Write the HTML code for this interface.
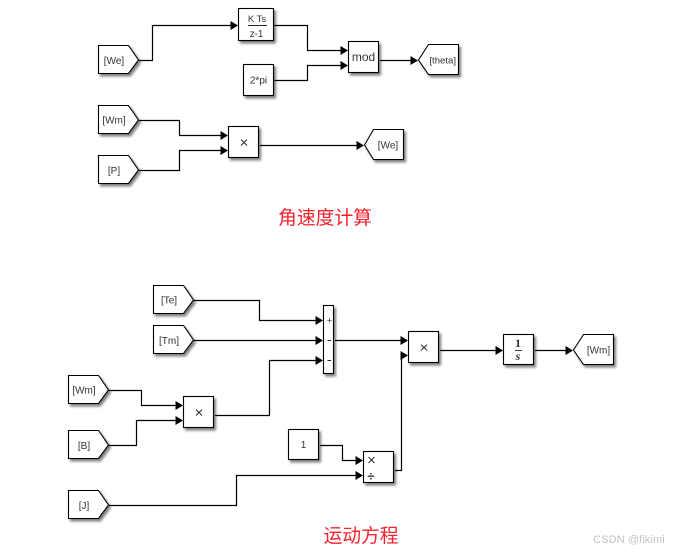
<!DOCTYPE html>
<html><head><meta charset="utf-8"><style>
html,body{margin:0;padding:0;background:#fff;width:676px;height:553px;overflow:hidden}
svg{display:block;filter:blur(.3px)}
text{font-family:"Liberation Sans",sans-serif;font-size:10px;fill:#333;text-anchor:middle}
.c{font-family:"Liberation Sans","Noto Sans CJK SC",sans-serif;font-size:18.8px;fill:#f5222d}
.w{fill:none;stroke:#000;stroke-width:1.2}
.b{fill:#fff;stroke:#000;stroke-width:1.1;filter:url(#s)}
.a{fill:#000;stroke:none}
</style></head><body>
<svg width="676" height="553" viewBox="0 0 676 553" xmlns="http://www.w3.org/2000/svg">
<defs><filter id="s" x="-30%" y="-30%" width="170%" height="170%"><feDropShadow dx="2" dy="2.5" stdDeviation="1.3" flood-color="#000" flood-opacity=".5"/></filter></defs>

<!-- wires -->
<g class="w">
<path d="M139 60.500H152.500V25.500H232"/>
<path d="M274.500 25.500H307.500V50.500H342"/>
<path d="M274.500 80.500H307.500V65.500H342"/>
<path d="M380 60.500H412"/>
<path d="M139 120.500H179.500V135.500H222"/>
<path d="M139 170.500H179.500V150.500H222"/>
<path d="M260 145.500H358"/>
<path d="M194 300.500H259.500V320.500H317"/>
<path d="M194 340.500H317"/>
<path d="M215 415.500H269.500V360.500H317"/>
<path d="M335 340.500H402"/>
<path d="M109 390.500H141.500V405.500H177"/>
<path d="M109 445.500H136.500V420.500H177"/>
<path d="M109 505.500H236.500V475.500H357"/>
<path d="M320 445.500H342.500V460.500H357"/>
<path d="M395 470.500H401.500V355.500H402"/>
<path d="M440 350.500H497"/>
<path d="M535 350.500H567"/>
</g>

<!-- arrowheads -->
<g class="a">
<path d="M230.500 21L238 25.500L230.500 30Z"/>
<path d="M340.500 46L348 50.500L340.500 55Z"/>
<path d="M340.500 61L348 65.500L340.500 70Z"/>
<path d="M410.500 56L418 60.500L410.500 65Z"/>
<path d="M220.500 131L228 135.500L220.500 140Z"/>
<path d="M220.500 146L228 150.500L220.500 155Z"/>
<path d="M356.500 141L364 145.500L356.500 150Z"/>
<path d="M315.500 316L323 320.500L315.500 325Z"/>
<path d="M315.500 336L323 340.500L315.500 345Z"/>
<path d="M315.500 356L323 360.500L315.500 365Z"/>
<path d="M175.500 401L183 405.500L175.500 410Z"/>
<path d="M175.500 416L183 420.500L175.500 425Z"/>
<path d="M400.500 336L408 340.500L400.500 345Z"/>
<path d="M400.500 351L408 355.500L400.500 360Z"/>
<path d="M355.500 456L363 460.500L355.500 465Z"/>
<path d="M355.500 471L363 475.500L355.500 480Z"/>
<path d="M495.500 346L503 350.500L495.500 355Z"/>
<path d="M565.500 346L573 350.500L565.500 355Z"/>
</g>

<!-- blocks -->
<g>
<rect class="b" x="238.500" y="8.500" width="35" height="32"/>
<rect class="b" x="243.500" y="64.500" width="30" height="31"/>
<rect class="b" x="348.500" y="41.500" width="30" height="31"/>
<rect class="b" x="228.500" y="126.500" width="30" height="31"/>
<rect class="b" x="323.500" y="305.500" width="10" height="68"/>
<rect class="b" x="183.500" y="396.500" width="30" height="31"/>
<rect class="b" x="288.500" y="429.500" width="30" height="30"/>
<rect class="b" x="363.500" y="451.500" width="30" height="31"/>
<rect class="b" x="408.500" y="331.500" width="30" height="31"/>
<rect class="b" x="503.500" y="334.500" width="30" height="30"/>
<!-- from tags -->
<path class="b" d="M98.500 45.500H128.500L138.500 60L128.500 73.500H98.500Z"/>
<path class="b" d="M98.500 105.500H128.500L138.500 120L128.500 133.500H98.500Z"/>
<path class="b" d="M98.500 155.500H128.500L138.500 170L128.500 183.500H98.500Z"/>
<path class="b" d="M153.500 285.500H183.500L193.500 300L183.500 313.500H153.500Z"/>
<path class="b" d="M153.500 325.500H183.500L193.500 340L183.500 353.500H153.500Z"/>
<path class="b" d="M68.500 375.500H98.500L108.500 390L98.500 403.500H68.500Z"/>
<path class="b" d="M68.500 430.500H98.500L108.500 445L98.500 458.500H68.500Z"/>
<path class="b" d="M68.500 490.500H98.500L108.500 505L98.500 518.500H68.500Z"/>
<!-- goto tags -->
<path class="b" d="M428.500 44.500H458.500V74.500H428.500L418.500 60Z"/>
<path class="b" d="M373.500 129.500H403.500V159.500H373.500L364.500 145Z"/>
<path class="b" d="M583.500 334.500H613.500V364.500H583.500L573.500 350Z"/>
</g>

<!-- block labels -->
<text x="257" y="22" style="font-size:9.500px">K Ts</text>
<path d="M248 25.500H267" stroke="#222" stroke-width="1" fill="none"/>
<text x="256.500" y="37" style="font-size:9.800px">z-1</text>
<text x="258.500" y="83.500">2*pi</text>
<text x="363.500" y="61" style="font-size:12px">mod</text>
<text x="442.700" y="63.500" style="font-size:9.600px">[theta]</text>
<text x="114" y="64">[We]</text>
<text x="114" y="123.500">[Wm]</text>
<text x="114" y="174">[P]</text>
<text x="244" y="147.500" style="font-size:15px">×</text>
<text x="388" y="148.500">[We]</text>
<text x="169" y="303.500">[Te]</text>
<text x="169" y="344">[Tm]</text>
<text x="84" y="393.500">[Wm]</text>
<text x="84" y="449">[B]</text>
<text x="84" y="509">[J]</text>
<text x="199" y="417.500" style="font-size:15px">×</text>
<text x="303.500" y="448">1</text>
<text x="424" y="352.500" style="font-size:15px">×</text>
<text x="371.500" y="465" style="font-size:15px">×</text>
<text x="371" y="480.500" style="font-size:13px;font-weight:bold">÷</text>
<text x="329.500" y="323.500" style="font-size:9px">+</text>
<path d="M327.500 340.500H331M327.500 360.500H331" stroke="#222" stroke-width="1" fill="none"/>
<text x="518" y="347" style="font-family:'Liberation Serif',serif;font-size:12px;font-weight:bold">1</text>
<path d="M515 350.500H522" stroke="#444" stroke-width="1" fill="none"/>
<text x="518" y="360" style="font-family:'Liberation Serif',serif;font-size:12px;font-style:italic;font-weight:bold">s</text>
<text x="598.500" y="353.500">[Wm]</text>

<!-- captions -->
<text class="c" x="325" y="224">角速度计算</text>
<text class="c" x="361" y="542">运动方程</text>
<text x="629" y="543" style="font-size:11px;fill:#c4c4c4;letter-spacing:.1px">CSDN @fikimi</text>
</svg>
</body></html>
